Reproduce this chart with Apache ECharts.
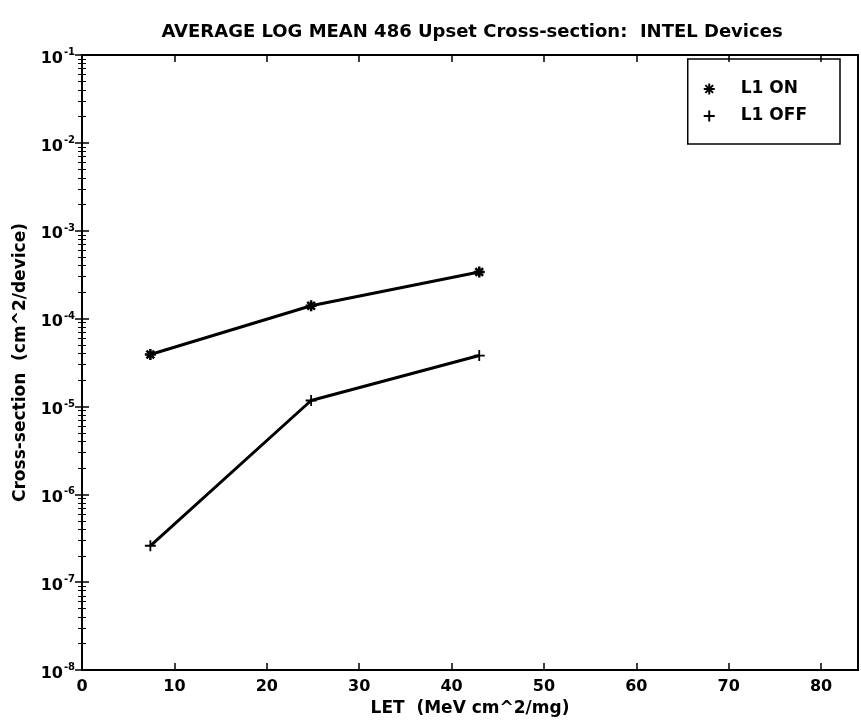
<!DOCTYPE html>
<html>
<head>
<meta charset="utf-8">
<script src="https://cdn.jsdelivr.net/npm/echarts@6/dist/echarts.min.js"></script>
<style>
html, body { margin: 0; padding: 0; background: #fff; }
#chart { width: 861px; height: 722px; }
</style>
</head>
<body>
<div id="chart"></div>
<script>
// Data
const letValues = [7.4, 24.8, 43.0];
const l1On = [3.9e-5, 1.4e-4, 3.4e-4];
const l1Off = [2.6e-7, 1.17e-5, 3.8e-5];
const seriesNames = ['L1 ON', 'L1 OFF'];
const xTicks = [0, 10, 20, 30, 40, 50, 60, 70, 80];

const fontFamily = '"DejaVu Sans", Verdana, sans-serif';
const fontWeight = 'bold';

// Marker shapes (open strokes)
const plusPath = 'path://M0,5 L10,5 M5,0 L5,10';
const starPath = 'path://M0,5 L10,5 M5,0 L5,10 M1.5,1.5 L8.5,8.5 M8.5,1.5 L1.5,8.5';

function pairs(xs, ys) {
	return xs.map((x, i) => [x, ys[i]]);
}

// 10^n labels with superscript
function powerLabel(v) {
	const e = Math.round(Math.log10(v));
	return '{b|10}{s|' + e + '}';
}

const chart = echarts.init(document.getElementById('chart'));

const lineBlack = { color: '#000', width: 2 };
const tickStyle = { inside: true, length: 7, lineStyle: { color: '#000', width: 1.5 } };
// negative length keeps minor ticks inside the frame
const minorStyle = { show: true, splitNumber: 9, length: -4, lineStyle: { color: '#000', width: 1 } };

const option = {
	animation: false,
	backgroundColor: '#fff',
	title: {
		text: 'AVERAGE LOG MEAN 486 Upset Cross-section:  INTEL Devices',
		left: 467,
		textAlign: 'center',
		top: 18,
		textStyle: { fontFamily, fontSize: 18, fontWeight, color: '#000' }
	},
	grid: { left: 82, right: 3, top: 55, bottom: 47, show: true, borderColor: '#000', borderWidth: 2 },
	legend: {
		orient: 'vertical',
		right: 21,
		top: 59,
		data: [
			{ name: seriesNames[0], icon: starPath },
			{ name: seriesNames[1], icon: plusPath }
		],
		itemWidth: 11,
		itemHeight: 11,
		itemGap: 7,
		padding: [20, 33, 18, 15],
		borderColor: '#000',
		borderWidth: 1.5,
		textStyle: { fontFamily, fontSize: 17, fontWeight, color: '#000', lineHeight: 20, padding: [0, 0, 0, 21] }
	},
	xAxis: [
		{
			type: 'value', min: 0, max: 84, interval: 10,
			name: 'LET  (MeV cm^2/mg)', nameLocation: 'middle', nameGap: 27,
			nameTextStyle: { fontFamily, fontSize: 17, fontWeight, color: '#000' },
			axisLine: { lineStyle: lineBlack },
			axisTick: tickStyle,
			axisLabel: {
				fontFamily, fontSize: 16, fontWeight, color: '#000', margin: 9, showMaxLabel: false,
				formatter: v => xTicks.includes(v) ? String(v) : ''
			},
			splitLine: { show: false }
		},
		{
			type: 'value', position: 'top', min: 0, max: 84, interval: 10,
			axisLine: { lineStyle: lineBlack },
			axisTick: tickStyle,
			axisLabel: { show: false },
			splitLine: { show: false }
		}
	],
	yAxis: [
		{
			type: 'log', logBase: 10, min: 1e-8, max: 1e-1,
			name: 'Cross-section  (cm^2/device)', nameLocation: 'middle', nameGap: 53,
			nameTextStyle: { fontFamily, fontSize: 17, fontWeight, color: '#000' },
			axisLine: { lineStyle: lineBlack },
			axisTick: tickStyle,
			minorTick: minorStyle,
			axisLabel: {
				margin: 7,
				formatter: powerLabel,
				rich: {
					b: { fontFamily, fontSize: 16, fontWeight, color: '#000', padding: [7, 0, 0, 0] },
					s: { fontFamily, fontSize: 10, fontWeight, color: '#000', padding: [0, 0, 5, 1] }
				}
			},
			splitLine: { show: false }
		},
		{
			type: 'log', logBase: 10, min: 1e-8, max: 1e-1, position: 'right',
			axisLine: { lineStyle: lineBlack },
			axisTick: tickStyle,
			minorTick: minorStyle,
			axisLabel: { show: false },
			splitLine: { show: false }
		}
	],
	series: [
		{
			name: seriesNames[0], type: 'line',
			data: pairs(letValues, l1On),
			symbol: starPath, symbolSize: 11,
			itemStyle: { color: '#000', borderColor: '#000', borderWidth: 2.5 },
			lineStyle: { color: '#000', width: 3 }
		},
		{
			name: seriesNames[1], type: 'line',
			data: pairs(letValues, l1Off),
			symbol: plusPath, symbolSize: 11,
			itemStyle: { color: '#000', borderColor: '#000', borderWidth: 1.8 },
			lineStyle: { color: '#000', width: 3 }
		}
	]
};

chart.setOption(option);
</script>
</body>
</html>
